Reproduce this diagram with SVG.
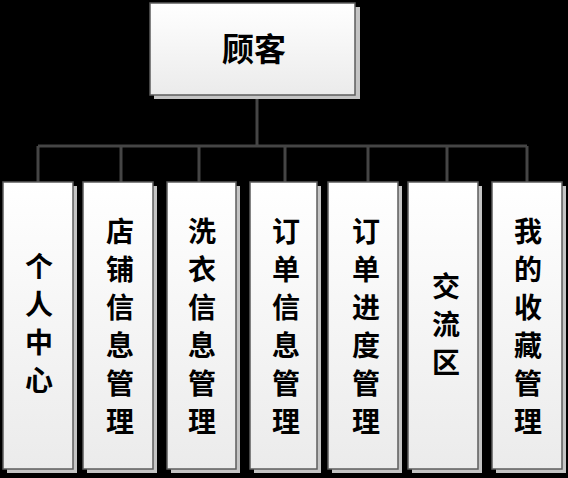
<svg xmlns="http://www.w3.org/2000/svg" width="568" height="478" viewBox="0 0 568 478">
<defs>
<linearGradient id="g" x1="0" y1="0" x2="0" y2="1">
<stop offset="0" stop-color="#ffffff"/>
<stop offset="1" stop-color="#ebebeb"/>
</linearGradient>
<style>
.box{fill:url(#g);stroke:#5c5c5c;stroke-width:1.5}
.sh{fill:#c4c4c4}
.t{font-family:"Noto Sans CJK SC","Noto Sans CJK JP",sans-serif;font-size:28px;font-weight:700;fill:#000;text-anchor:middle}
.con{stroke:#454545;stroke-width:3;fill:none}
</style>
</defs>
<rect x="0" y="0" width="568" height="478" fill="#000"/>
<g id="connectors">
<path class="con" d="M257,95V146M38,146H527M38,146V182M121,146V182M199,146V182M285,146V182M368,146V182M447,146V182M527,146V182"/>
</g>
<g id="n0">
<rect class="sh" x="154" y="7" width="206" height="92"/>
<rect class="box" x="150" y="3" width="205" height="92"/>
<text class="t" x="254" y="61" style="font-size:32px">顾客</text>
</g>
<g id="n1">
<rect class="sh" x="7" y="186" width="70" height="287"/>
<rect class="box" x="3" y="182" width="70" height="287"/>
<text class="t"><tspan x="39" y="277">个</tspan><tspan x="39" y="315">人</tspan><tspan x="39" y="353">中</tspan><tspan x="39" y="391">心</tspan></text>
</g>
<g id="n2">
<rect class="sh" x="87" y="186" width="70" height="287"/>
<rect class="box" x="83" y="182" width="70" height="287"/>
<text class="t"><tspan x="120" y="242">店</tspan><tspan x="120" y="280">铺</tspan><tspan x="120" y="318">信</tspan><tspan x="120" y="356">息</tspan><tspan x="120" y="394">管</tspan><tspan x="120" y="432">理</tspan></text>
</g>
<g id="n3">
<rect class="sh" x="171" y="186" width="69" height="287"/>
<rect class="box" x="167" y="182" width="69" height="287"/>
<text class="t"><tspan x="202" y="242">洗</tspan><tspan x="202" y="280">衣</tspan><tspan x="202" y="318">信</tspan><tspan x="202" y="356">息</tspan><tspan x="202" y="394">管</tspan><tspan x="202" y="432">理</tspan></text>
</g>
<g id="n4">
<rect class="sh" x="254" y="186" width="67" height="287"/>
<rect class="box" x="250" y="182" width="67" height="287"/>
<text class="t"><tspan x="286" y="242">订</tspan><tspan x="286" y="280">单</tspan><tspan x="286" y="318">信</tspan><tspan x="286" y="356">息</tspan><tspan x="286" y="394">管</tspan><tspan x="286" y="432">理</tspan></text>
</g>
<g id="n5">
<rect class="sh" x="332" y="186" width="70" height="287"/>
<rect class="box" x="328" y="182" width="70" height="287"/>
<text class="t"><tspan x="366" y="242">订</tspan><tspan x="366" y="280">单</tspan><tspan x="366" y="318">进</tspan><tspan x="366" y="356">度</tspan><tspan x="366" y="394">管</tspan><tspan x="366" y="432">理</tspan></text>
</g>
<g id="n6">
<rect class="sh" x="412" y="186" width="70" height="287"/>
<rect class="box" x="408" y="182" width="70" height="287"/>
<text class="t"><tspan x="446" y="297">交</tspan><tspan x="446" y="335">流</tspan><tspan x="446" y="373">区</tspan></text>
</g>
<g id="n7">
<rect class="sh" x="496" y="186" width="70" height="287"/>
<rect class="box" x="492" y="182" width="70" height="287"/>
<text class="t"><tspan x="528" y="242">我</tspan><tspan x="528" y="280">的</tspan><tspan x="528" y="318">收</tspan><tspan x="528" y="356">藏</tspan><tspan x="528" y="394">管</tspan><tspan x="528" y="432">理</tspan></text>
</g>
</svg>
